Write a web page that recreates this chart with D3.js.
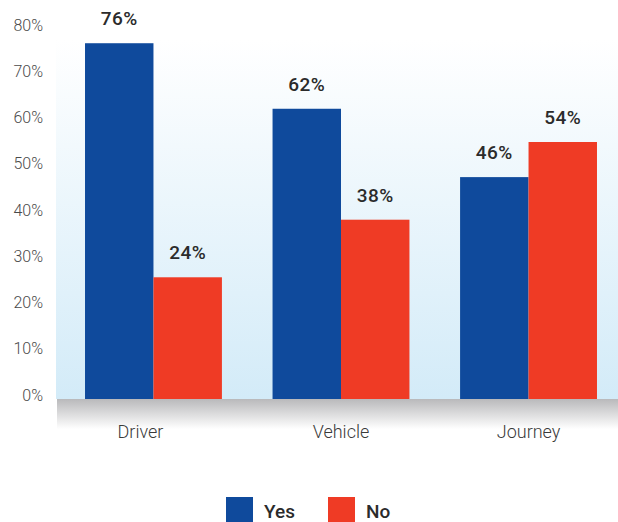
<!DOCTYPE html>
<html><head><meta charset="utf-8">
<script src="https://cdn.jsdelivr.net/npm/d3@7"></script>
<style>body{margin:0;background:#fff}svg{display:block}text{font-family:Roboto,"DejaVu Sans",sans-serif}</style>
</head><body><svg id="c" width="618" height="522"></svg>
<script>
const categories = ["Driver", "Vehicle", "Journey"];
const seriesNames = ["Yes", "No"];
const yesValues = [76, 62, 47.4];
const noValues = [26, 38.3, 54.9];
const yesLabels = ["76%", "62%", "46%"];
const noLabels = ["24%", "38%", "54%"];
const yTicks = [0, 10, 20, 30, 40, 50, 60, 70, 80];
const colors = ["#0f4a9c", "#ef3b25"];

const svg = d3.select("#c");
const defs = svg.append("defs");
const bg = defs.append("linearGradient").attr("id","bg").attr("x1",0).attr("y1",0).attr("x2",0).attr("y2",1);
bg.append("stop").attr("offset","0%").attr("stop-color","#ffffff");
bg.append("stop").attr("offset","100%").attr("stop-color","#d3ebf8");
const sh = defs.append("linearGradient").attr("id","sh").attr("x1",0).attr("y1",0).attr("x2",0).attr("y2",1);
sh.append("stop").attr("offset","0%").attr("stop-color","#b9b9bb");
sh.append("stop").attr("offset","100%").attr("stop-color","#ffffff");

const y = d3.scaleLinear().domain([0, 80]).range([399, 24.5]);
const yLab = d3.scaleLinear().domain([0, 80]).range([395, 25]);
const x = d3.scaleBand().domain(categories).range([59.7, 622.3]).paddingInner(0.27).paddingOuter(0.135);
const xs = d3.scaleBand().domain(seriesNames).range([0, x.bandwidth()]);

svg.append("rect").attr("x",56).attr("y",40).attr("width",562).attr("height",y(0)-40).attr("fill","url(#bg)");
svg.append("rect").attr("x",57).attr("y",y(0)).attr("width",561).attr("height",30).attr("fill","url(#sh)");

const ax = svg.append("g").attr("transform","translate(43,0)")
  .call(d3.axisLeft(yLab).tickValues(yTicks).tickSize(0).tickPadding(0).tickFormat(d => d + "%"));
ax.select(".domain").remove();
ax.selectAll("text").attr("font-size",16).attr("font-weight",300).attr("fill","#4a4a4a").attr("font-family","Roboto,sans-serif");

const rows = categories.map((c,i) => ({c, vals:[{s:"Yes",v:yesValues[i],l:yesLabels[i]},{s:"No",v:noValues[i],l:noLabels[i]}]}));
const g = svg.selectAll("g.grp").data(rows).join("g").attr("class","grp").attr("transform", d => `translate(${x(d.c)},0)`);
g.selectAll("rect").data(d => d.vals).join("rect")
  .attr("x", d => xs(d.s)).attr("width", xs.bandwidth())
  .attr("y", d => y(d.v)).attr("height", d => y(0) - y(d.v))
  .attr("fill", (d,i) => colors[i]);
g.selectAll("text.val").data(d => d.vals).join("text").attr("class","val")
  .attr("x", d => xs(d.s) + xs.bandwidth()/2).attr("y", d => y(d.v) - 18)
  .attr("text-anchor","middle").attr("font-size",19).attr("font-weight",500).attr("letter-spacing",0.5).attr("fill","#2b2b2b")
  .text(d => d.l);

const xa = svg.append("g").attr("transform",`translate(0,${y(0)})`)
  .call(d3.axisBottom(x).tickSize(0).tickPadding(0));
xa.select(".domain").remove();
xa.selectAll("text").attr("dy",null).attr("y",39).attr("font-size",18).attr("font-weight",300).attr("fill","#3a3a3a").attr("font-family","Roboto,sans-serif")
  .attr("dx", d => d === "Driver" ? -13 : 0);

const leg = svg.append("g");
const lx = [226, 328];
seriesNames.forEach((s,i) => {
  leg.append("rect").attr("x",lx[i]).attr("y",497).attr("width",27).attr("height",25).attr("fill",colors[i]);
  leg.append("text").attr("x",lx[i]+38).attr("y",518).attr("font-size",19).attr("font-weight",500).attr("fill","#2b2b2b").text(s);
});
</script></body></html>
